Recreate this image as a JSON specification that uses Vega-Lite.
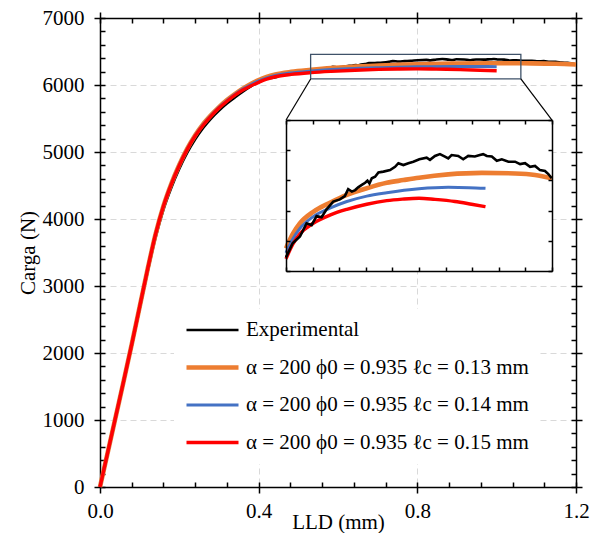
{
  "$schema": "https://vega.github.io/schema/vega-lite/v6.json",
  "width": 476,
  "height": 469,
  "autosize": "none",
  "padding": {"left": 100, "top": 18, "right": 22, "bottom": 46},
  "background": "white",
  "config": {
    "view": {"stroke": null},
    "font": "Liberation Serif",
    "axis": {"domainColor": "black", "domainWidth": 1.5, "tickColor": "black", "tickWidth": 1.5, "labelFont": "Liberation Serif", "labelColor": "black", "titleFont": "Liberation Serif", "titleColor": "black", "titleFontWeight": "normal", "grid": false}
  },
  "datasets": {
    "curves": [
      {"series": "Experimental", "x": 0, "y": 0},
      {"series": "Experimental", "x": 0.02, "y": 520},
      {"series": "Experimental", "x": 0.04, "y": 1050},
      {"series": "Experimental", "x": 0.06, "y": 1580},
      {"series": "Experimental", "x": 0.08, "y": 2110},
      {"series": "Experimental", "x": 0.1, "y": 2660},
      {"series": "Experimental", "x": 0.12, "y": 3210},
      {"series": "Experimental", "x": 0.14, "y": 3720},
      {"series": "Experimental", "x": 0.16, "y": 4140},
      {"series": "Experimental", "x": 0.18, "y": 4470},
      {"series": "Experimental", "x": 0.2, "y": 4750},
      {"series": "Experimental", "x": 0.22, "y": 4990},
      {"series": "Experimental", "x": 0.24, "y": 5190},
      {"series": "Experimental", "x": 0.26, "y": 5360},
      {"series": "Experimental", "x": 0.28, "y": 5500},
      {"series": "Experimental", "x": 0.3, "y": 5620},
      {"series": "Experimental", "x": 0.32, "y": 5725},
      {"series": "Experimental", "x": 0.34, "y": 5815},
      {"series": "Experimental", "x": 0.36, "y": 5900},
      {"series": "Experimental", "x": 0.38, "y": 5978},
      {"series": "Experimental", "x": 0.4, "y": 6045},
      {"series": "Experimental", "x": 0.42, "y": 6092},
      {"series": "Experimental", "x": 0.442, "y": 6114},
      {"series": "Experimental", "x": 0.462, "y": 6158},
      {"series": "Experimental", "x": 0.477, "y": 6152},
      {"series": "Experimental", "x": 0.492, "y": 6182},
      {"series": "Experimental", "x": 0.507, "y": 6178},
      {"series": "Experimental", "x": 0.522, "y": 6204},
      {"series": "Experimental", "x": 0.542, "y": 6230},
      {"series": "Experimental", "x": 0.562, "y": 6237},
      {"series": "Experimental", "x": 0.577, "y": 6248},
      {"series": "Experimental", "x": 0.587, "y": 6271},
      {"series": "Experimental", "x": 0.598, "y": 6263},
      {"series": "Experimental", "x": 0.608, "y": 6268},
      {"series": "Experimental", "x": 0.617, "y": 6277},
      {"series": "Experimental", "x": 0.628, "y": 6285},
      {"series": "Experimental", "x": 0.638, "y": 6292},
      {"series": "Experimental", "x": 0.645, "y": 6299},
      {"series": "Experimental", "x": 0.651, "y": 6290},
      {"series": "Experimental", "x": 0.658, "y": 6307},
      {"series": "Experimental", "x": 0.668, "y": 6312},
      {"series": "Experimental", "x": 0.678, "y": 6326},
      {"series": "Experimental", "x": 0.693, "y": 6329},
      {"series": "Experimental", "x": 0.713, "y": 6334},
      {"series": "Experimental", "x": 0.728, "y": 6345},
      {"series": "Experimental", "x": 0.738, "y": 6357},
      {"series": "Experimental", "x": 0.753, "y": 6351},
      {"series": "Experimental", "x": 0.768, "y": 6357},
      {"series": "Experimental", "x": 0.783, "y": 6362},
      {"series": "Experimental", "x": 0.801, "y": 6370},
      {"series": "Experimental", "x": 0.823, "y": 6375},
      {"series": "Experimental", "x": 0.833, "y": 6368},
      {"series": "Experimental", "x": 0.848, "y": 6381},
      {"series": "Experimental", "x": 0.863, "y": 6387},
      {"series": "Experimental", "x": 0.878, "y": 6379},
      {"series": "Experimental", "x": 0.888, "y": 6373},
      {"series": "Experimental", "x": 0.898, "y": 6384},
      {"series": "Experimental", "x": 0.918, "y": 6381},
      {"series": "Experimental", "x": 0.933, "y": 6370},
      {"series": "Experimental", "x": 0.948, "y": 6381},
      {"series": "Experimental", "x": 0.968, "y": 6379},
      {"series": "Experimental", "x": 0.983, "y": 6384},
      {"series": "Experimental", "x": 0.993, "y": 6387},
      {"series": "Experimental", "x": 1.004, "y": 6381},
      {"series": "Experimental", "x": 1.019, "y": 6379},
      {"series": "Experimental", "x": 1.034, "y": 6365},
      {"series": "Experimental", "x": 1.049, "y": 6370},
      {"series": "Experimental", "x": 1.069, "y": 6362},
      {"series": "Experimental", "x": 1.089, "y": 6362},
      {"series": "Experimental", "x": 1.104, "y": 6354},
      {"series": "Experimental", "x": 1.119, "y": 6357},
      {"series": "Experimental", "x": 1.134, "y": 6345},
      {"series": "Experimental", "x": 1.149, "y": 6348},
      {"series": "Experimental", "x": 1.164, "y": 6334},
      {"series": "Experimental", "x": 1.179, "y": 6331},
      {"series": "Experimental", "x": 1.189, "y": 6321},
      {"series": "Experimental", "x": 1.199, "y": 6307},
      {"series": "α = 200 ϕ0 = 0.935 ℓc = 0.13 mm", "x": 0, "y": 0},
      {"series": "α = 200 ϕ0 = 0.935 ℓc = 0.13 mm", "x": 0.02, "y": 530},
      {"series": "α = 200 ϕ0 = 0.935 ℓc = 0.13 mm", "x": 0.04, "y": 1060},
      {"series": "α = 200 ϕ0 = 0.935 ℓc = 0.13 mm", "x": 0.06, "y": 1590},
      {"series": "α = 200 ϕ0 = 0.935 ℓc = 0.13 mm", "x": 0.08, "y": 2130},
      {"series": "α = 200 ϕ0 = 0.935 ℓc = 0.13 mm", "x": 0.1, "y": 2690},
      {"series": "α = 200 ϕ0 = 0.935 ℓc = 0.13 mm", "x": 0.12, "y": 3250},
      {"series": "α = 200 ϕ0 = 0.935 ℓc = 0.13 mm", "x": 0.14, "y": 3770},
      {"series": "α = 200 ϕ0 = 0.935 ℓc = 0.13 mm", "x": 0.16, "y": 4195},
      {"series": "α = 200 ϕ0 = 0.935 ℓc = 0.13 mm", "x": 0.18, "y": 4530},
      {"series": "α = 200 ϕ0 = 0.935 ℓc = 0.13 mm", "x": 0.2, "y": 4810},
      {"series": "α = 200 ϕ0 = 0.935 ℓc = 0.13 mm", "x": 0.22, "y": 5050},
      {"series": "α = 200 ϕ0 = 0.935 ℓc = 0.13 mm", "x": 0.24, "y": 5250},
      {"series": "α = 200 ϕ0 = 0.935 ℓc = 0.13 mm", "x": 0.26, "y": 5415},
      {"series": "α = 200 ϕ0 = 0.935 ℓc = 0.13 mm", "x": 0.28, "y": 5550},
      {"series": "α = 200 ϕ0 = 0.935 ℓc = 0.13 mm", "x": 0.3, "y": 5670},
      {"series": "α = 200 ϕ0 = 0.935 ℓc = 0.13 mm", "x": 0.32, "y": 5775},
      {"series": "α = 200 ϕ0 = 0.935 ℓc = 0.13 mm", "x": 0.34, "y": 5865},
      {"series": "α = 200 ϕ0 = 0.935 ℓc = 0.13 mm", "x": 0.36, "y": 5945},
      {"series": "α = 200 ϕ0 = 0.935 ℓc = 0.13 mm", "x": 0.38, "y": 6015},
      {"series": "α = 200 ϕ0 = 0.935 ℓc = 0.13 mm", "x": 0.4, "y": 6075},
      {"series": "α = 200 ϕ0 = 0.935 ℓc = 0.13 mm", "x": 0.42, "y": 6122},
      {"series": "α = 200 ϕ0 = 0.935 ℓc = 0.13 mm", "x": 0.442, "y": 6158},
      {"series": "α = 200 ϕ0 = 0.935 ℓc = 0.13 mm", "x": 0.482, "y": 6196},
      {"series": "α = 200 ϕ0 = 0.935 ℓc = 0.13 mm", "x": 0.532, "y": 6226},
      {"series": "α = 200 ϕ0 = 0.935 ℓc = 0.13 mm", "x": 0.583, "y": 6252},
      {"series": "α = 200 ϕ0 = 0.935 ℓc = 0.13 mm", "x": 0.643, "y": 6274},
      {"series": "α = 200 ϕ0 = 0.935 ℓc = 0.13 mm", "x": 0.703, "y": 6292},
      {"series": "α = 200 ϕ0 = 0.935 ℓc = 0.13 mm", "x": 0.753, "y": 6301},
      {"series": "α = 200 ϕ0 = 0.935 ℓc = 0.13 mm", "x": 0.8, "y": 6309},
      {"series": "α = 200 ϕ0 = 0.935 ℓc = 0.13 mm", "x": 0.888, "y": 6320},
      {"series": "α = 200 ϕ0 = 0.935 ℓc = 0.13 mm", "x": 0.989, "y": 6325},
      {"series": "α = 200 ϕ0 = 0.935 ℓc = 0.13 mm", "x": 1.089, "y": 6323},
      {"series": "α = 200 ϕ0 = 0.935 ℓc = 0.13 mm", "x": 1.149, "y": 6318},
      {"series": "α = 200 ϕ0 = 0.935 ℓc = 0.13 mm", "x": 1.2, "y": 6307},
      {"series": "α = 200 ϕ0 = 0.935 ℓc = 0.14 mm", "x": 0, "y": 0},
      {"series": "α = 200 ϕ0 = 0.935 ℓc = 0.14 mm", "x": 0.02, "y": 530},
      {"series": "α = 200 ϕ0 = 0.935 ℓc = 0.14 mm", "x": 0.04, "y": 1060},
      {"series": "α = 200 ϕ0 = 0.935 ℓc = 0.14 mm", "x": 0.06, "y": 1590},
      {"series": "α = 200 ϕ0 = 0.935 ℓc = 0.14 mm", "x": 0.08, "y": 2130},
      {"series": "α = 200 ϕ0 = 0.935 ℓc = 0.14 mm", "x": 0.1, "y": 2690},
      {"series": "α = 200 ϕ0 = 0.935 ℓc = 0.14 mm", "x": 0.12, "y": 3250},
      {"series": "α = 200 ϕ0 = 0.935 ℓc = 0.14 mm", "x": 0.14, "y": 3770},
      {"series": "α = 200 ϕ0 = 0.935 ℓc = 0.14 mm", "x": 0.16, "y": 4192},
      {"series": "α = 200 ϕ0 = 0.935 ℓc = 0.14 mm", "x": 0.18, "y": 4525},
      {"series": "α = 200 ϕ0 = 0.935 ℓc = 0.14 mm", "x": 0.2, "y": 4805},
      {"series": "α = 200 ϕ0 = 0.935 ℓc = 0.14 mm", "x": 0.22, "y": 5045},
      {"series": "α = 200 ϕ0 = 0.935 ℓc = 0.14 mm", "x": 0.24, "y": 5245},
      {"series": "α = 200 ϕ0 = 0.935 ℓc = 0.14 mm", "x": 0.26, "y": 5408},
      {"series": "α = 200 ϕ0 = 0.935 ℓc = 0.14 mm", "x": 0.28, "y": 5543},
      {"series": "α = 200 ϕ0 = 0.935 ℓc = 0.14 mm", "x": 0.3, "y": 5665},
      {"series": "α = 200 ϕ0 = 0.935 ℓc = 0.14 mm", "x": 0.32, "y": 5768},
      {"series": "α = 200 ϕ0 = 0.935 ℓc = 0.14 mm", "x": 0.34, "y": 5858},
      {"series": "α = 200 ϕ0 = 0.935 ℓc = 0.14 mm", "x": 0.36, "y": 5938},
      {"series": "α = 200 ϕ0 = 0.935 ℓc = 0.14 mm", "x": 0.38, "y": 6003},
      {"series": "α = 200 ϕ0 = 0.935 ℓc = 0.14 mm", "x": 0.4, "y": 6060},
      {"series": "α = 200 ϕ0 = 0.935 ℓc = 0.14 mm", "x": 0.42, "y": 6105},
      {"series": "α = 200 ϕ0 = 0.935 ℓc = 0.14 mm", "x": 0.442, "y": 6141},
      {"series": "α = 200 ϕ0 = 0.935 ℓc = 0.14 mm", "x": 0.482, "y": 6180},
      {"series": "α = 200 ϕ0 = 0.935 ℓc = 0.14 mm", "x": 0.532, "y": 6208},
      {"series": "α = 200 ϕ0 = 0.935 ℓc = 0.14 mm", "x": 0.583, "y": 6230},
      {"series": "α = 200 ϕ0 = 0.935 ℓc = 0.14 mm", "x": 0.643, "y": 6248},
      {"series": "α = 200 ϕ0 = 0.935 ℓc = 0.14 mm", "x": 0.703, "y": 6259},
      {"series": "α = 200 ϕ0 = 0.935 ℓc = 0.14 mm", "x": 0.8, "y": 6272},
      {"series": "α = 200 ϕ0 = 0.935 ℓc = 0.14 mm", "x": 0.888, "y": 6277},
      {"series": "α = 200 ϕ0 = 0.935 ℓc = 0.14 mm", "x": 0.95, "y": 6276},
      {"series": "α = 200 ϕ0 = 0.935 ℓc = 0.14 mm", "x": 1.0, "y": 6274},
      {"series": "α = 200 ϕ0 = 0.935 ℓc = 0.15 mm", "x": 0, "y": 0},
      {"series": "α = 200 ϕ0 = 0.935 ℓc = 0.15 mm", "x": 0.02, "y": 530},
      {"series": "α = 200 ϕ0 = 0.935 ℓc = 0.15 mm", "x": 0.04, "y": 1060},
      {"series": "α = 200 ϕ0 = 0.935 ℓc = 0.15 mm", "x": 0.06, "y": 1590},
      {"series": "α = 200 ϕ0 = 0.935 ℓc = 0.15 mm", "x": 0.08, "y": 2130},
      {"series": "α = 200 ϕ0 = 0.935 ℓc = 0.15 mm", "x": 0.1, "y": 2690},
      {"series": "α = 200 ϕ0 = 0.935 ℓc = 0.15 mm", "x": 0.12, "y": 3250},
      {"series": "α = 200 ϕ0 = 0.935 ℓc = 0.15 mm", "x": 0.14, "y": 3770},
      {"series": "α = 200 ϕ0 = 0.935 ℓc = 0.15 mm", "x": 0.16, "y": 4190},
      {"series": "α = 200 ϕ0 = 0.935 ℓc = 0.15 mm", "x": 0.18, "y": 4520},
      {"series": "α = 200 ϕ0 = 0.935 ℓc = 0.15 mm", "x": 0.2, "y": 4800},
      {"series": "α = 200 ϕ0 = 0.935 ℓc = 0.15 mm", "x": 0.22, "y": 5040},
      {"series": "α = 200 ϕ0 = 0.935 ℓc = 0.15 mm", "x": 0.24, "y": 5240},
      {"series": "α = 200 ϕ0 = 0.935 ℓc = 0.15 mm", "x": 0.26, "y": 5400},
      {"series": "α = 200 ϕ0 = 0.935 ℓc = 0.15 mm", "x": 0.28, "y": 5535},
      {"series": "α = 200 ϕ0 = 0.935 ℓc = 0.15 mm", "x": 0.3, "y": 5655},
      {"series": "α = 200 ϕ0 = 0.935 ℓc = 0.15 mm", "x": 0.32, "y": 5757},
      {"series": "α = 200 ϕ0 = 0.935 ℓc = 0.15 mm", "x": 0.34, "y": 5848},
      {"series": "α = 200 ϕ0 = 0.935 ℓc = 0.15 mm", "x": 0.36, "y": 5924},
      {"series": "α = 200 ϕ0 = 0.935 ℓc = 0.15 mm", "x": 0.38, "y": 5986},
      {"series": "α = 200 ϕ0 = 0.935 ℓc = 0.15 mm", "x": 0.4, "y": 6040},
      {"series": "α = 200 ϕ0 = 0.935 ℓc = 0.15 mm", "x": 0.42, "y": 6088},
      {"series": "α = 200 ϕ0 = 0.935 ℓc = 0.15 mm", "x": 0.442, "y": 6123},
      {"series": "α = 200 ϕ0 = 0.935 ℓc = 0.15 mm", "x": 0.482, "y": 6158},
      {"series": "α = 200 ϕ0 = 0.935 ℓc = 0.15 mm", "x": 0.532, "y": 6185},
      {"series": "α = 200 ϕ0 = 0.935 ℓc = 0.15 mm", "x": 0.583, "y": 6204},
      {"series": "α = 200 ϕ0 = 0.935 ℓc = 0.15 mm", "x": 0.643, "y": 6221},
      {"series": "α = 200 ϕ0 = 0.935 ℓc = 0.15 mm", "x": 0.703, "y": 6233},
      {"series": "α = 200 ϕ0 = 0.935 ℓc = 0.15 mm", "x": 0.75, "y": 6238},
      {"series": "α = 200 ϕ0 = 0.935 ℓc = 0.15 mm", "x": 0.8, "y": 6241},
      {"series": "α = 200 ϕ0 = 0.935 ℓc = 0.15 mm", "x": 0.848, "y": 6237},
      {"series": "α = 200 ϕ0 = 0.935 ℓc = 0.15 mm", "x": 0.908, "y": 6230},
      {"series": "α = 200 ϕ0 = 0.935 ℓc = 0.15 mm", "x": 0.958, "y": 6221},
      {"series": "α = 200 ϕ0 = 0.935 ℓc = 0.15 mm", "x": 1.0, "y": 6213}
    ],
    "zoombox": [{"x0": 0.531, "x1": 1.061, "y0": 6090, "y1": 6458}],
    "links": [
      {"x0": 0.531, "y0": 6090, "x1": 0.469, "y1": 5477},
      {"x0": 1.061, "y0": 6090, "x1": 1.1395, "y1": 5477}
    ],
    "insetframe": [{"x0": 0.4, "x1": 1.2, "y0": 6000, "y1": 6500}]
  },
  "resolve": {"scale": {"x": "independent", "y": "independent"}, "axis": {"x": "independent", "y": "independent"}},
  "layer": [
    {
      "resolve": {"axis": {"x": "independent", "y": "independent"}},
      "layer": [
        {
          "data": {"name": "curves"},
          "mark": {"type": "line", "interpolate": "monotone"},
          "encoding": {
            "x": {"field": "x", "type": "quantitative", "scale": {"domain": [0, 1.2], "nice": false, "zero": false},
              "axis": {"orient": "bottom", "values": [0, 0.4, 0.8, 1.2], "format": ".1f", "tickSize": 6, "labelPadding": 7, "labelFontSize": 21, "title": "LLD (mm)", "titleFontSize": 21, "titleY": 41, "titleBaseline": "alphabetic", "grid": true, "gridColor": "#d9d9d9", "gridDash": [6, 4], "gridWidth": 1, "labelFlush": false}},
            "y": {"field": "y", "type": "quantitative", "scale": {"domain": [0, 7000], "nice": false, "zero": false},
              "axis": {"orient": "left", "values": [0, 1000, 2000, 3000, 4000, 5000, 6000, 7000], "format": "d", "tickSize": 6, "labelPadding": 10, "labelFontSize": 21, "title": "Carga (N)", "titleFontSize": 21, "titlePadding": 4, "grid": true, "gridColor": "#d9d9d9", "gridDash": [6, 4], "gridWidth": 1}},
            "color": {"field": "series", "type": "nominal",
              "scale": {"domain": ["Experimental", "α = 200 ϕ0 = 0.935 ℓc = 0.13 mm", "α = 200 ϕ0 = 0.935 ℓc = 0.14 mm", "α = 200 ϕ0 = 0.935 ℓc = 0.15 mm"], "range": ["#000000", "#ED7D31", "#4472C4", "#FF0000"]},
              "legend": {"orient": "none", "legendX": 74, "legendY": 291, "title": null, "symbolType": "stroke", "symbolSize": 2704, "labelFont": "Liberation Serif", "labelFontSize": 21, "labelColor": "black", "labelOffset": 5, "clipHeight": 22, "rowPadding": 15.5, "padding": 10, "fillColor": "white", "labelLimit": 400}},
            "strokeWidth": {"field": "series", "type": "nominal",
              "scale": {"type": "ordinal", "domain": ["Experimental", "α = 200 ϕ0 = 0.935 ℓc = 0.13 mm", "α = 200 ϕ0 = 0.935 ℓc = 0.14 mm", "α = 200 ϕ0 = 0.935 ℓc = 0.15 mm"], "range": [2.6, 4.6, 3, 3.4]},
              "legend": {"orient": "none", "legendX": 74, "legendY": 291, "title": null, "symbolType": "stroke", "symbolSize": 2704, "labelFont": "Liberation Serif", "labelFontSize": 21, "labelColor": "black", "labelOffset": 5, "clipHeight": 22, "rowPadding": 15.5, "padding": 10, "fillColor": "white", "labelLimit": 400}}
          }
        },
        {
          "data": {"name": "zoombox"},
          "mark": {"type": "rect", "filled": false, "stroke": "#3F5269", "strokeWidth": 1.3},
          "encoding": {
            "x": {"field": "x0", "type": "quantitative", "scale": {"domain": [0, 1.2], "nice": false, "zero": false},
              "axis": {"orient": "bottom", "values": [0, 0.08, 0.16, 0.24, 0.32, 0.4, 0.48, 0.56, 0.64, 0.72, 0.8, 0.88, 0.96, 1.04, 1.12, 1.2], "tickSize": -5, "labels": false, "domain": false, "title": null}},
            "x2": {"field": "x1"},
            "y": {"field": "y0", "type": "quantitative", "scale": {"domain": [0, 7000], "nice": false, "zero": false},
              "axis": {"orient": "left", "values": [0, 200, 400, 600, 800, 1000, 1200, 1400, 1600, 1800, 2000, 2200, 2400, 2600, 2800, 3000, 3200, 3400, 3600, 3800, 4000, 4200, 4400, 4600, 4800, 5000, 5200, 5400, 5600, 5800, 6000, 6200, 6400, 6600, 6800, 7000], "tickSize": -5, "labels": false, "domain": false, "title": null}},
            "y2": {"field": "y1"}
          }
        },
        {
          "data": {"name": "links"},
          "mark": {"type": "rule", "color": "black", "strokeWidth": 1.2},
          "encoding": {
            "x": {"field": "x0", "type": "quantitative", "scale": {"domain": [0, 1.2], "nice": false, "zero": false},
              "axis": {"orient": "top", "values": [0, 0.08, 0.16, 0.24, 0.32, 0.4, 0.48, 0.56, 0.64, 0.72, 0.8, 0.88, 0.96, 1.04, 1.12, 1.2], "tickSize": -5, "labels": false, "domain": true, "title": null}},
            "x2": {"field": "x1"},
            "y": {"field": "y0", "type": "quantitative", "scale": {"domain": [0, 7000], "nice": false, "zero": false},
              "axis": {"orient": "right", "values": [0, 200, 400, 600, 800, 1000, 1200, 1400, 1600, 1800, 2000, 2200, 2400, 2600, 2800, 3000, 3200, 3400, 3600, 3800, 4000, 4200, 4400, 4600, 4800, 5000, 5200, 5400, 5600, 5800, 6000, 6200, 6400, 6600, 6800, 7000], "tickSize": -5, "labels": false, "domain": true, "title": null}},
            "y2": {"field": "y1"}
          }
        },
        {
          "data": {"name": "links"},
          "mark": {"type": "point", "opacity": 0},
          "encoding": {
            "x": {"field": "x0", "type": "quantitative", "scale": {"domain": [0, 1.2], "nice": false, "zero": false},
              "axis": {"orient": "top", "values": [0, 0.4, 0.8, 1.2], "tickSize": 6, "labels": false, "domain": false, "title": null}},
            "y": {"field": "y0", "type": "quantitative", "scale": {"domain": [0, 7000], "nice": false, "zero": false},
              "axis": {"orient": "right", "values": [0, 1000, 2000, 3000, 4000, 5000, 6000, 7000], "tickSize": 6, "labels": false, "domain": false, "title": null}}
          }
        }
      ]
    },
    {
      "resolve": {"axis": {"x": "independent", "y": "independent"}},
      "layer": [
        {
          "data": {"name": "insetframe"},
          "mark": {"type": "rect", "fill": "white", "stroke": null},
          "encoding": {
            "x": {"field": "x0", "type": "quantitative", "scale": {"domain": [0.4, 1.2], "range": [186, 452], "nice": false, "zero": false},
              "axis": {"orient": "bottom", "offset": -216, "values": [0.4, 0.48, 0.56, 0.64, 0.72, 0.8, 0.88, 0.96, 1.04, 1.12, 1.2], "tickSize": -4, "labels": false, "domain": true, "title": null, "zindex": 1}},
            "x2": {"field": "x1"},
            "y": {"field": "y0", "type": "quantitative", "scale": {"domain": [6000, 6500], "range": [253, 102], "nice": false, "zero": false},
              "axis": {"orient": "left", "offset": -186, "values": [6000, 6100, 6200, 6300, 6400, 6500], "tickSize": -4, "labels": false, "domain": true, "title": null, "zindex": 1}},
            "y2": {"field": "y1"}
          }
        },
        {
          "data": {"name": "curves"},
          "transform": [{"filter": "datum.series !== 'Experimental' && datum.x >= 0.4"}],
          "mark": {"type": "line", "interpolate": "monotone"},
          "encoding": {
            "x": {"field": "x", "type": "quantitative", "scale": {"domain": [0.4, 1.2], "range": [186, 452], "nice": false, "zero": false},
              "axis": {"orient": "top", "offset": -102, "values": [0.4, 0.48, 0.56, 0.64, 0.72, 0.8, 0.88, 0.96, 1.04, 1.12, 1.2], "tickSize": -4, "labels": false, "domain": true, "title": null, "zindex": 1}},
            "y": {"field": "y", "type": "quantitative", "scale": {"domain": [6000, 6500], "range": [253, 102], "nice": false, "zero": false},
              "axis": {"orient": "right", "offset": -24, "values": [6000, 6100, 6200, 6300, 6400, 6500], "tickSize": -4, "labels": false, "domain": true, "title": null, "zindex": 1}},
            "color": {"field": "series", "type": "nominal",
              "scale": {"domain": ["Experimental", "α = 200 ϕ0 = 0.935 ℓc = 0.13 mm", "α = 200 ϕ0 = 0.935 ℓc = 0.14 mm", "α = 200 ϕ0 = 0.935 ℓc = 0.15 mm"], "range": ["#000000", "#ED7D31", "#4472C4", "#FF0000"]},
              "legend": {"orient": "none", "legendX": 74, "legendY": 291, "title": null, "symbolType": "stroke", "symbolSize": 2704, "labelFont": "Liberation Serif", "labelFontSize": 21, "labelColor": "black", "labelOffset": 5, "clipHeight": 22, "rowPadding": 15.5, "padding": 10, "fillColor": "white", "labelLimit": 400}},
            "strokeWidth": {"field": "series", "type": "nominal",
              "scale": {"type": "ordinal", "domain": ["Experimental", "α = 200 ϕ0 = 0.935 ℓc = 0.13 mm", "α = 200 ϕ0 = 0.935 ℓc = 0.14 mm", "α = 200 ϕ0 = 0.935 ℓc = 0.15 mm"], "range": [2.6, 4.6, 3, 3.4]},
              "legend": {"orient": "none", "legendX": 74, "legendY": 291, "title": null, "symbolType": "stroke", "symbolSize": 2704, "labelFont": "Liberation Serif", "labelFontSize": 21, "labelColor": "black", "labelOffset": 5, "clipHeight": 22, "rowPadding": 15.5, "padding": 10, "fillColor": "white", "labelLimit": 400}}
          }
        },
        {
          "data": {"name": "curves"},
          "transform": [{"filter": "datum.series === 'Experimental' && datum.x >= 0.4"}],
          "mark": {"type": "line"},
          "encoding": {
            "x": {"field": "x", "type": "quantitative", "scale": {"domain": [0.4, 1.2], "range": [186, 452], "nice": false, "zero": false}, "axis": null},
            "y": {"field": "y", "type": "quantitative", "scale": {"domain": [6000, 6500], "range": [253, 102], "nice": false, "zero": false}, "axis": null},
            "color": {"field": "series", "type": "nominal",
              "scale": {"domain": ["Experimental", "α = 200 ϕ0 = 0.935 ℓc = 0.13 mm", "α = 200 ϕ0 = 0.935 ℓc = 0.14 mm", "α = 200 ϕ0 = 0.935 ℓc = 0.15 mm"], "range": ["#000000", "#ED7D31", "#4472C4", "#FF0000"]},
              "legend": {"orient": "none", "legendX": 74, "legendY": 291, "title": null, "symbolType": "stroke", "symbolSize": 2704, "labelFont": "Liberation Serif", "labelFontSize": 21, "labelColor": "black", "labelOffset": 5, "clipHeight": 22, "rowPadding": 15.5, "padding": 10, "fillColor": "white", "labelLimit": 400}},
            "strokeWidth": {"field": "series", "type": "nominal",
              "scale": {"type": "ordinal", "domain": ["Experimental", "α = 200 ϕ0 = 0.935 ℓc = 0.13 mm", "α = 200 ϕ0 = 0.935 ℓc = 0.14 mm", "α = 200 ϕ0 = 0.935 ℓc = 0.15 mm"], "range": [2.6, 4.6, 3, 3.4]},
              "legend": {"orient": "none", "legendX": 74, "legendY": 291, "title": null, "symbolType": "stroke", "symbolSize": 2704, "labelFont": "Liberation Serif", "labelFontSize": 21, "labelColor": "black", "labelOffset": 5, "clipHeight": 22, "rowPadding": 15.5, "padding": 10, "fillColor": "white", "labelLimit": 400}}
          }
        }
      ]
    }
  ]
}
